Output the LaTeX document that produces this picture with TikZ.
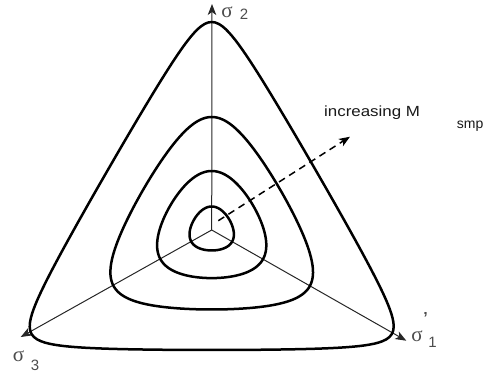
\documentclass[tikz,border=0pt]{standalone}
\usepackage{fontspec}
\setmainfont{Liberation Sans}
\newfontfamily\greekfont{Liberation Serif}
\usetikzlibrary{arrows.meta}
\begin{document}
\begin{tikzpicture}[x=1pt,y=1pt,
  curve/.style={line width=2.5pt, line join=round},
  tip/.style={-{Stealth[length=11pt,width=8.5pt,inset=3pt]}},
  axis/.style={line width=1pt, draw=black!85, tip},
  lbl/.style={text=black!70, inner sep=0pt},
  sig/.style={lbl, font=\greekfont\fontsize{21}{21}\selectfont, text height=0.47em, text depth=0pt},
  sub/.style={lbl, font=\fontsize{15}{15}\selectfont},
  dasharrow/.style={line width=1.5pt, dash pattern=on 7pt off 5pt, tip}]
\useasboundingbox (0,0) rectangle (489,376);
\coordinate (C) at (211.7,146);
\coordinate (A2) at (212,372);
\coordinate (A3) at (20.7,39);
\coordinate (A1) at (406.3,35.3);
\draw[axis] (C) -- (A2);
\draw[axis] (C) -- (A3);
\draw[axis] (C) -- (A1);
\foreach \rc/\m in {208/0.965, 113/0.77, 59/0.5, 23.5/0.35}
  \draw[curve, shift={(C)}] plot[domain=0:360, samples=361, variable=\t]
    (\t:{\rc*cos(acos(-\m)/3)/cos(acos(\m*sin(3*\t))/3)}) -- cycle;
\coordinate (D0) at (218.3,155.3);
\coordinate (D1) at (350,239.3);
\draw[dasharrow] (D0) -- (D1);
% labels
\node[sig, anchor=base] (s2) at (227,359) {σ};
\node[sub] (n2) at (244,362) {2};
\node[sig, anchor=base] (s3) at (18.5,15) {σ};
\node[sub] (n3) at (35,10.5) {3};
\node[sig, anchor=base] (s1) at (417,35) {σ};
\node[sub] (n1) at (432.5,33.8) {1};
\node[lbl, font=\fontsize{16}{16}\bfseries] (pr) at (425.7,58) {'};
\node[inner sep=0pt, anchor=base west, text=black!90, font=\fontsize{14.7}{14.7}\selectfont] (inc) at (324,259.3) {\scalebox{1.15}[1]{increasing M}};
\node[inner sep=0pt, anchor=base west, text=black!90, font=\fontsize{14}{14}\selectfont] (smp) at (456.7,247.7) {smp};
\end{tikzpicture}
\end{document}
